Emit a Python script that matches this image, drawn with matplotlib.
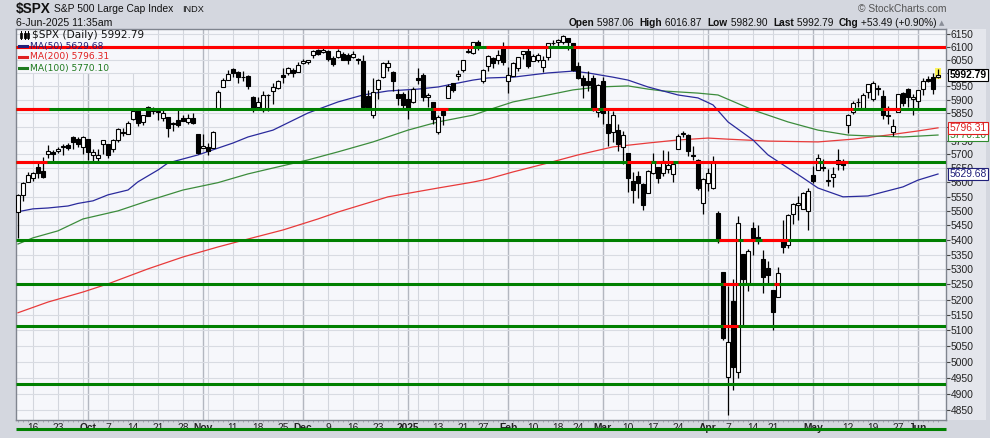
import matplotlib
matplotlib.use("Agg")
import matplotlib.pyplot as plt
import matplotlib.ticker as mticker
from matplotlib.patches import Rectangle
from matplotlib.lines import Line2D
from matplotlib.offsetbox import TextArea, HPacker, AnnotationBbox
import numpy as np
import pandas as pd

plt.rcParams["font.family"] = ["Liberation Sans", "DejaVu Sans"]

# trading calendar (market holidays removed)
holidays = ["2024-11-28", "2024-12-25", "2025-01-01", "2025-01-09",
            "2025-01-20", "2025-02-17", "2025-04-18", "2025-05-26"]
dates = pd.bdate_range("2024-09-11", "2025-06-06")
dates = dates[~dates.isin(pd.to_datetime(holidays))]

# daily OHLC, one row per month (Sep 24 .. Jun 25)
opens = [
    5496, 5557, 5603, 5615, 5655, 5642, 5703, 5709, 5712, 5727, 5733, 5762, 5755, 5726,
    5757, 5698, 5688, 5738, 5737, 5719, 5751, 5778, 5775, 5829, 5866, 5817, 5875, 5859, 5858, 5833, 5835, 5814, 5826, 5833, 5818, 5833, 5775,
    5723, 5725, 5722, 5864, 5947, 5976, 6016, 6003, 5985, 5989, 5912, 5874, 5863, 5917, 5934, 5944, 5992, 6000, 6014, 6004,
    6040, 6041, 6069, 6087, 6081, 6083, 6058, 6060, 6075, 6068, 6063, 6053, 6048, 5913, 5842, 5941, 5984, 6024, 6006, 5921, 5920,
    5903, 5892, 5982, 5993, 5910, 5890, 5782, 5859, 5906, 5962, 5990, 6014, 6082, 6076, 6121, 5970, 6027, 6057, 6050, 6097,
    5970, 5990, 6021, 6072, 6084, 6047, 6050, 6025, 6060, 6116, 6121, 6118, 6134, 6115, 6027, 5982, 5971, 5981, 5856,
    5969, 5811, 5782, 5789, 5726, 5705, 5604, 5624, 5595, 5564, 5635, 5655, 5632, 5646, 5630, 5718, 5772, 5771, 5696, 5679, 5527,
    5597, 5581, 5492, 5292, 4953, 5194, 4968, 5353, 5256, 5441, 5411, 5335, 5305, 5233, 5207, 5395, 5381, 5489, 5522, 5508, 5499,
    5625, 5645, 5655, 5605, 5618, 5680, 5675, 5808, 5854, 5891, 5869, 5929, 5902, 5944, 5916, 5841, 5781, 5855, 5925, 5939, 5903,
    5897, 5939, 5978, 5985, 5987.06,
]
highs = [
    5560, 5600, 5636, 5636, 5671, 5690, 5733, 5716, 5725, 5736, 5742, 5767, 5764, 5765,
    5757, 5720, 5718, 5753, 5739, 5757, 5797, 5796, 5822, 5871, 5870, 5843, 5878, 5872, 5866, 5863, 5835, 5817, 5862, 5842, 5847, 5851, 5775,
    5772, 5741, 5783, 5936, 5983, 6012, 6018, 6009, 6008, 5993, 5916, 5909, 5932, 5920, 5963, 5973, 6021, 6025, 6020, 6044,
    6053, 6052, 6089, 6092, 6100, 6088, 6065, 6092, 6080, 6079, 6085, 6058, 6071, 5936, 5982, 5978, 6041, 6049, 6007, 5941, 5929,
    5935, 5949, 6021, 6000, 5927, 5890, 5843, 5871, 5960, 5964, 6014, 6051, 6100, 6119, 6128, 6017, 6070, 6063, 6087, 6120,
    6023, 6042, 6062, 6084, 6101, 6073, 6077, 6064, 6116, 6128, 6130, 6147, 6135, 6115, 6044, 5993, 6009, 5994, 5959,
    5986, 5866, 5860, 5812, 5783, 5706, 5636, 5642, 5598, 5645, 5704, 5656, 5716, 5711, 5670, 5775, 5786, 5772, 5732, 5685, 5616,
    5651, 5695, 5500, 5293, 5246, 5268, 5481, 5353, 5369, 5460, 5450, 5367, 5328, 5233, 5309, 5469, 5489, 5528, 5553, 5565, 5581,
    5659, 5700, 5683, 5648, 5654, 5720, 5684, 5847, 5895, 5906, 5925, 5959, 5969, 5954, 5938, 5878, 5830, 5922, 5930, 5943, 5922,
    5937, 5982, 5991, 5999, 6016.87,
]
lows = [
    5406, 5535, 5601, 5604, 5614, 5615, 5686, 5674, 5704, 5698, 5714, 5721, 5728, 5703,
    5681, 5675, 5674, 5703, 5686, 5707, 5745, 5765, 5773, 5825, 5804, 5808, 5840, 5846, 5824, 5821, 5762, 5784, 5799, 5823, 5812, 5812, 5703,
    5723, 5696, 5722, 5864, 5947, 5976, 5986, 5963, 5970, 5942, 5853, 5865, 5855, 5860, 5884, 5941, 5963, 5992, 5984, 6003,
    6034, 6034, 6058, 6068, 6079, 6045, 6027, 6058, 6051, 6035, 6059, 6036, 5867, 5866, 5833, 5903, 5983, 6007, 5932, 5879, 5869,
    5829, 5888, 5960, 5896, 5874, 5809, 5773, 5805, 5906, 5931, 5976, 6006, 6076, 6075, 6088, 5962, 6008, 6020, 6035, 6031,
    5924, 5990, 6007, 6055, 6020, 6046, 6043, 6003, 6052, 6107, 6099, 6111, 6089, 6009, 5979, 5908, 5932, 5858, 5837,
    5810, 5732, 5744, 5711, 5667, 5565, 5529, 5546, 5504, 5564, 5628, 5597, 5622, 5633, 5603, 5718, 5764, 5694, 5681, 5572, 5489,
    5571, 5578, 5390, 5069, 4835, 4911, 4950, 5115, 5228, 5349, 5386, 5221, 5255, 5101, 5207, 5357, 5371, 5455, 5468, 5505, 5433,
    5597, 5645, 5640, 5586, 5584, 5644, 5644, 5776, 5847, 5875, 5867, 5908, 5895, 5917, 5830, 5810, 5768, 5855, 5878, 5875, 5843,
    5861, 5919, 5967, 5921, 5982.90,
]
closes = [
    5554, 5596, 5626, 5633, 5634, 5618, 5713, 5702, 5718, 5732, 5722, 5745, 5738, 5762,
    5709, 5709, 5699, 5751, 5696, 5751, 5792, 5780, 5815, 5859, 5815, 5843, 5841, 5865, 5853, 5851, 5797, 5809, 5808, 5823, 5832, 5813, 5705,
    5729, 5712, 5782, 5929, 5973, 5996, 6001, 5984, 5985, 5950, 5871, 5893, 5917, 5917, 5949, 5969, 5987, 6021, 5999, 6032,
    6047, 6050, 6086, 6075, 6090, 6053, 6034, 6084, 6051, 6051, 6074, 6050, 5872, 5867, 5931, 5974, 6040, 6037, 5971, 5907, 5882,
    5869, 5942, 5975, 5909, 5918, 5827, 5836, 5843, 5950, 5937, 5997, 6049, 6086, 6119, 6101, 6012, 6067, 6039, 6071, 6041,
    5994, 6037, 6061, 6084, 6026, 6066, 6068, 6052, 6115, 6115, 6129, 6144, 6118, 6013, 5983, 5955, 5956, 5861, 5955,
    5850, 5778, 5843, 5738, 5770, 5615, 5572, 5599, 5522, 5639, 5675, 5615, 5676, 5663, 5667, 5768, 5777, 5712, 5693, 5581, 5612,
    5633, 5671, 5397, 5074, 5062, 4982, 5457, 5268, 5363, 5406, 5396, 5276, 5283, 5158, 5288, 5376, 5485, 5525, 5529, 5561, 5569,
    5604, 5687, 5650, 5607, 5631, 5664, 5660, 5844, 5887, 5892, 5917, 5958, 5964, 5940, 5845, 5842, 5802, 5922, 5889, 5912, 5912,
    5936, 5970, 5971, 5939, 5992.79,
]

# moving averages (day index, value)
ma50_idx = [0, 3, 6, 10, 12, 15, 18, 22, 24, 28, 30, 36, 43, 46, 51, 58, 64, 69, 74, 80, 84, 91,
            94, 99, 106, 111, 114, 119, 122, 126, 132, 136, 139, 142, 147, 150, 154, 157, 160,
            165, 170, 177, 180, 184]
ma50_val = [5497, 5507, 5510, 5517, 5526, 5535, 5556, 5573, 5602, 5644, 5669, 5698, 5741, 5763,
            5788, 5851, 5892, 5918, 5933, 5940, 5948, 5974, 5982, 5985, 6001, 6008, 6001, 5985,
            5974, 5948, 5918, 5907, 5881, 5818, 5752, 5698, 5651, 5616, 5580, 5549, 5552, 5584,
            5608, 5629.68]
ma100_idx = [0, 3, 8, 13, 20, 26, 33, 40, 46, 51, 58, 64, 71, 78, 84, 91, 94, 99, 106, 111, 116,
             122, 126, 129, 136, 140, 147, 154, 160, 166, 170, 177, 184]
ma100_val = [5386, 5407, 5431, 5472, 5500, 5535, 5573, 5599, 5630, 5651, 5680, 5709, 5745, 5788,
             5818, 5843, 5862, 5892, 5918, 5937, 5948, 5952, 5940, 5933, 5925, 5918, 5862, 5818,
             5788, 5770, 5767, 5763, 5770.10]
ma200_idx = [0, 6, 13, 18, 26, 33, 40, 46, 53, 60, 64, 74, 84, 91, 94, 99, 106, 112, 119, 126,
             132, 138, 142, 150, 160, 167, 174, 180, 184]
ma200_val = [5157, 5192, 5225, 5252, 5302, 5342, 5376, 5403, 5434, 5472, 5496, 5549, 5580, 5601,
             5612, 5637, 5669, 5698, 5727, 5741, 5752, 5759, 5755, 5748, 5745, 5755, 5770, 5785,
             5796.31]

# horizontal annotation lines: level and the day ranges drawn red (rest green)
levels = [6100, 5867, 5673, 5400, 5252, 5115, 4930]
red_spans = [
    [(-0.4, 91), (93.5, 106), (111, 185.6)],
    [(-0.4, 6.2), (83, 86), (114.7, 115.9), (116.9, 167), (173, 176.4)],
    [(-0.4, 5.8), (121.7, 126.5), (127.5, 131), (132, 160), (161, 166)],
    [(140.1, 143.9), (145, 147.3), (148.7, 154)],
    [(141, 144), (151.2, 152.2)],
    [(141, 144)],
    [],
]
below_level = 4793

o = np.array(opens, float)
h = np.array(highs, float)
l = np.array(lows, float)
c = np.array(closes, float)
n = len(c)
idx = np.arange(n)

W, H = 990, 438
fig = plt.figure(figsize=(W / 100, H / 100), dpi=100)
fig.patch.set_facecolor("#d4d7df")


def fx(x):
    return x / W


def fy(y):
    return 1 - y / H


# right price-scale strip
fig.add_artist(Rectangle((fx(946), fy(420)), fx(40), 391 / H, transform=fig.transFigure,
                         facecolor="#e4e6ec", edgecolor="none", zorder=0))

ax = fig.add_axes([fx(16), fy(420), 930 / W, 391 / H])
ax.set_facecolor("#f6f7fb")
ax.set_yscale("log")
ax.set_ylim(4819, 6170)
ax.set_xlim(-0.4, 185.6)

# y axis on the right
yt = np.arange(4850, 6151, 50)
ax.yaxis.tick_right()
ax.yaxis.set_major_locator(mticker.FixedLocator(yt))
ax.yaxis.set_minor_locator(mticker.NullLocator())
ax.yaxis.set_major_formatter(mticker.FuncFormatter(lambda v, p: f"{v:.0f}"))
ax.tick_params(axis="y", direction="out", length=3, width=0.8, color="#444444",
               pad=0.5, labelsize=7.4, labelcolor="#222222")
ax.grid(axis="y", color="#d8dbe2", lw=0.8, zorder=0)

# x axis: weekly / monthly gridlines and labels
ds = pd.Series(dates)
month_start = ds.dt.month.ne(ds.dt.month.shift()).to_numpy()
week = ds.dt.isocalendar().week.to_numpy()
week_start = np.r_[True, week[1:] != week[:-1]]
month_start[0] = False
week_start[0] = False
m_idx = np.where(month_start)[0]
w_idx = np.where(week_start)[0]

for i in w_idx:
    ax.axvline(i, color="#d3d6dd", lw=0.8, zorder=0.6)
for i in m_idx:
    ax.axvline(i, color="#b3b7c0", lw=1.0, zorder=0.7)

tick_pos, tick_lab, tick_bold = [], [], []
for i in sorted(set(w_idx) | set(m_idx)):
    if i in m_idx:
        tick_pos.append(i)
        tick_lab.append("2025" if dates[i].month == 1 else dates[i].strftime("%b"))
        tick_bold.append(True)
    elif np.min(np.abs(m_idx - i)) > 3:
        tick_pos.append(i)
        tick_lab.append(str(dates[i].day))
        tick_bold.append(False)
ax.set_xticks(tick_pos)
ax.set_xticklabels(tick_lab)
for t, b in zip(ax.get_xticklabels(), tick_bold):
    if b:
        t.set_fontweight("bold")
ax.set_xticks(idx, minor=True)
ax.tick_params(axis="x", which="major", length=0, pad=2.0, labelsize=7.4, labelcolor="#222222")
ax.tick_params(axis="x", which="minor", length=1.5, width=0.6, color="#9a9ea8", direction="out")

for s in ax.spines.values():
    s.set_color("#80858f")
    s.set_linewidth(1.0)

# legend panel backdrop
ax.add_patch(Rectangle((fx(16), fy(73)), fx(140), 44 / H, transform=fig.transFigure,
                       facecolor="#f6f7fb", edgecolor="none", zorder=1))

# moving averages
ax.plot(ma200_idx, ma200_val, color="#e83a3a", lw=0.9, zorder=3)
ax.plot(ma100_idx, ma100_val, color="#3c8c3c", lw=0.9, zorder=3)
ax.plot(ma50_idx, ma50_val, color="#2a2a9c", lw=0.9, zorder=3)

# highlight last bar
ax.bar(idx[-1], h[-1] - l[-1] + 6, bottom=l[-1] - 3, width=1.3, color="#fbf35a", zorder=2)

# candles
ax.vlines(idx, l, h, color="black", lw=0.9, zorder=4)
up = c >= o
body_lo = np.minimum(o, c)
body_h = np.maximum(np.abs(c - o), 1.0)
ax.bar(idx, body_h, bottom=body_lo, width=0.74,
       color=np.where(up, "#ffffff", "#000000"), edgecolor="black", lw=0.8, zorder=5)

# annotation levels
for lev, spans in zip(levels, red_spans):
    ax.hlines(lev, -0.4, 185.6, color="#008000", lw=2.2, zorder=6)
    for a, b in spans:
        ax.hlines(lev, a, b, color="#ff0000", lw=2.2, zorder=6.1)
ax.hlines(below_level, -0.4, 185.6, color="#008000", lw=2.2, zorder=6, clip_on=False)

# right-hand value tags
ytr = ax.get_yaxis_transform()
tags = [
    (ma100_val[-1], "5770.10", "#2f8a2f", "normal"),
    (ma200_val[-1], "5796.31", "#dd1f1f", "normal"),
    (ma50_val[-1], "5629.68", "#20207a", "normal"),
    (c[-1], "5992.79", "#000000", "bold"),
]
for v, s, col, wt in tags:
    ax.text(1.004, v, s, transform=ytr, ha="left", va="center", fontsize=7.4,
            fontweight=wt, color=col, zorder=10, clip_on=False,
            bbox=dict(boxstyle="square,pad=0.12", fc="white", ec=col, lw=0.8))

# legend text
fig.text(fx(32), fy(35), "$SPX (Daily) 5992.79", fontsize=7.6, color="#111111",
         va="center", family="DejaVu Sans")
leg = [("MA(50) 5629.68", "#20207a", 46), ("MA(200) 5796.31", "#e02020", 57),
       ("MA(100) 5770.10", "#1f7a1f", 68)]
for s, col, yy in leg:
    fig.add_artist(Line2D([fx(19), fx(27)], [fy(yy), fy(yy)], color=col, lw=2.2))
    fig.text(fx(29.5), fy(yy), s, fontsize=6.6, color=col, va="center", family="DejaVu Sans")
for x0, filled in [(20, False), (23.5, True), (27, False)]:
    fig.add_artist(Line2D([fx(x0 + 1), fx(x0 + 1)], [fy(39), fy(31)], color="black", lw=0.7))
    fig.add_artist(Rectangle((fx(x0), fy(37.5)), fx(2), 4.5 / H, transform=fig.transFigure,
                             facecolor="black" if filled else "white", edgecolor="black", lw=0.6))

# header
fig.text(fx(16), fy(9), "$SPX", fontsize=9.8, fontweight="bold", color="#111111", va="center")
fig.text(fx(54), fy(9.5), "S&P 500 Large Cap Index", fontsize=7.4, color="#111111", va="center")
fig.text(fx(182), fy(9.5), "INDX", fontsize=6.6, color="#111111", va="center")
fig.text(fx(16), fy(23), "6-Jun-2025 11:35am", fontsize=7.6, color="#111111", va="center")
fig.text(fx(946), fy(9), "\u00a9 StockCharts.com", fontsize=7.4, color="#555555",
         va="center", ha="right")

parts = [("Open", True), (" 5987.06  ", False), ("High", True), (" 6016.87  ", False),
         ("Low", True), (" 5982.90  ", False), ("Last", True), (" 5992.79  ", False),
         ("Chg", True), (" +53.49 (+0.90%)", False)]
boxes = [TextArea(s, textprops=dict(size=7.3, color="#111111",
                                     weight="bold" if b else "normal")) for s, b in parts]
hb = HPacker(children=boxes, align="baseline", pad=0, sep=0)
fig.add_artist(AnnotationBbox(hb, (fx(937), fy(23)), xycoords="figure fraction",
                              box_alignment=(1, 0.5), frameon=False))
fig.text(fx(942), fy(23), "\u25b2", fontsize=5, color="#8a8e98", va="center", ha="center",
         family="DejaVu Sans")

fig.savefig("out.png", dpi=100, facecolor=fig.get_facecolor())
